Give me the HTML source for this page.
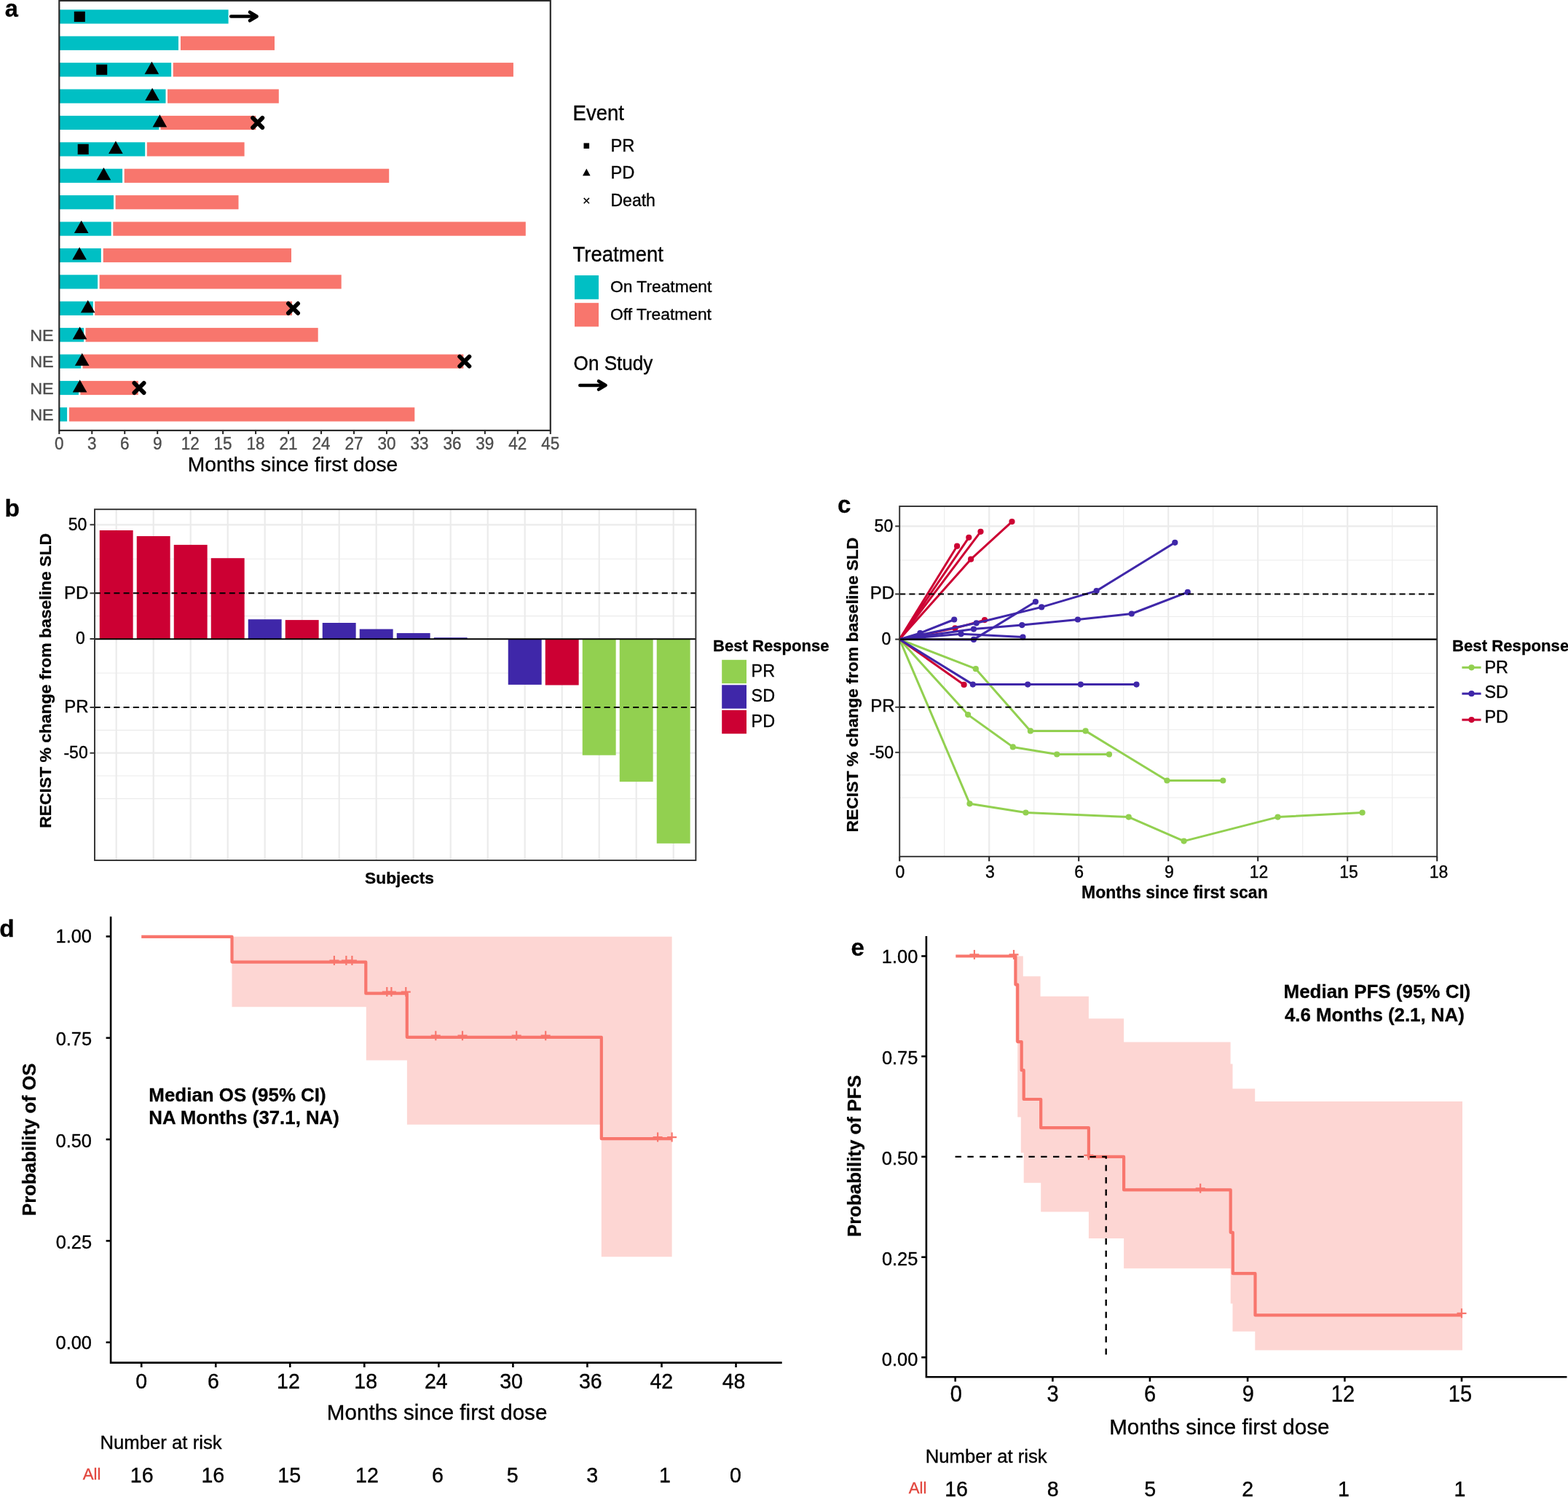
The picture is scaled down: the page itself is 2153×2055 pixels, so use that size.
<!DOCTYPE html>
<html lang="en">
<head>
<meta charset="utf-8">
<title>Figure</title>
<style>
html,body{margin:0;padding:0;background:#fff;}
body{width:2153px;height:2055px;overflow:hidden;}
svg{display:block;font-family:"Liberation Sans", sans-serif;}
</style>
</head>
<body>
<svg width="2153" height="2055" viewBox="0 0 2153 2055">
<rect x="0" y="0" width="2153" height="2055" fill="#fff"/>
<g id="panel-a">
<text transform="translate(6.78 23.0)" font-size="32.5" text-anchor="start" font-weight="bold" fill="#000" stroke="#000" stroke-width="0.3">a</text>
<rect x="81.3" y="13.30" width="232.30" height="19.2" fill="#00BFC4"/>
<rect x="81.3" y="49.70" width="163.70" height="19.2" fill="#00BFC4"/>
<rect x="248.0" y="49.70" width="129.00" height="19.2" fill="#F8766D"/>
<rect x="81.3" y="86.10" width="153.90" height="19.2" fill="#00BFC4"/>
<rect x="237.7" y="86.10" width="467.20" height="19.2" fill="#F8766D"/>
<rect x="81.3" y="122.50" width="146.20" height="19.2" fill="#00BFC4"/>
<rect x="230.0" y="122.50" width="152.80" height="19.2" fill="#F8766D"/>
<rect x="81.3" y="158.90" width="137.00" height="19.2" fill="#00BFC4"/>
<rect x="220.5" y="158.90" width="130.80" height="19.2" fill="#F8766D"/>
<rect x="81.3" y="195.30" width="117.90" height="19.2" fill="#00BFC4"/>
<rect x="201.8" y="195.30" width="133.80" height="19.2" fill="#F8766D"/>
<rect x="81.3" y="231.70" width="86.80" height="19.2" fill="#00BFC4"/>
<rect x="170.7" y="231.70" width="363.50" height="19.2" fill="#F8766D"/>
<rect x="81.3" y="268.10" width="74.70" height="19.2" fill="#00BFC4"/>
<rect x="158.6" y="268.10" width="168.90" height="19.2" fill="#F8766D"/>
<rect x="81.3" y="304.50" width="71.40" height="19.2" fill="#00BFC4"/>
<rect x="155.3" y="304.50" width="566.50" height="19.2" fill="#F8766D"/>
<rect x="81.3" y="340.90" width="57.50" height="19.2" fill="#00BFC4"/>
<rect x="141.7" y="340.90" width="258.30" height="19.2" fill="#F8766D"/>
<rect x="81.3" y="377.30" width="52.80" height="19.2" fill="#00BFC4"/>
<rect x="136.6" y="377.30" width="332.10" height="19.2" fill="#F8766D"/>
<rect x="81.3" y="413.70" width="46.50" height="19.2" fill="#00BFC4"/>
<rect x="130.2" y="413.70" width="270.80" height="19.2" fill="#F8766D"/>
<rect x="81.3" y="450.10" width="33.80" height="19.2" fill="#00BFC4"/>
<rect x="117.5" y="450.10" width="319.20" height="19.2" fill="#F8766D"/>
<rect x="81.3" y="486.50" width="29.90" height="19.2" fill="#00BFC4"/>
<rect x="113.5" y="486.50" width="522.90" height="19.2" fill="#F8766D"/>
<rect x="81.3" y="522.90" width="26.70" height="19.2" fill="#00BFC4"/>
<rect x="110.4" y="522.90" width="79.40" height="19.2" fill="#F8766D"/>
<rect x="81.3" y="559.30" width="10.80" height="19.2" fill="#00BFC4"/>
<rect x="94.9" y="559.30" width="474.40" height="19.2" fill="#F8766D"/>
<rect x="101.80" y="15.80" width="15" height="14.2" fill="#000"/>
<path d="M317.2,22.50 H352.3 M343.00,16.70 L352.60,22.50 L343.00,28.30" stroke="#000" stroke-width="4.6" stroke-linecap="round" stroke-linejoin="round" fill="none"/>
<rect x="132.20" y="88.60" width="15" height="14.2" fill="#000"/>
<path d="M208.40,84.40 L218.20,101.70 L198.60,101.70 Z" fill="#000"/>
<path d="M209.10,120.80 L218.90,138.10 L199.30,138.10 Z" fill="#000"/>
<path d="M219.40,157.20 L229.20,174.50 L209.60,174.50 Z" fill="#000"/>
<path d="M347.10,161.90 L360.30,175.10 M347.10,175.10 L360.30,161.90" stroke="#000" stroke-width="5.8" stroke-linecap="round" fill="none"/>
<rect x="106.70" y="197.80" width="15" height="14.2" fill="#000"/>
<path d="M158.90,193.60 L168.70,210.90 L149.10,210.90 Z" fill="#000"/>
<path d="M142.40,230.00 L152.20,247.30 L132.60,247.30 Z" fill="#000"/>
<path d="M111.70,302.80 L121.50,320.10 L101.90,320.10 Z" fill="#000"/>
<path d="M109.10,339.20 L118.90,356.50 L99.30,356.50 Z" fill="#000"/>
<path d="M120.70,412.00 L130.50,429.30 L110.90,429.30 Z" fill="#000"/>
<path d="M395.90,416.70 L409.10,429.90 M395.90,429.90 L409.10,416.70" stroke="#000" stroke-width="5.8" stroke-linecap="round" fill="none"/>
<path d="M109.60,448.40 L119.40,465.70 L99.80,465.70 Z" fill="#000"/>
<path d="M112.70,484.80 L122.50,502.10 L102.90,502.10 Z" fill="#000"/>
<path d="M631.20,489.50 L644.40,502.70 M631.20,502.70 L644.40,489.50" stroke="#000" stroke-width="5.8" stroke-linecap="round" fill="none"/>
<path d="M109.60,521.20 L119.40,538.50 L99.80,538.50 Z" fill="#000"/>
<path d="M184.40,525.90 L197.60,539.10 M184.40,539.10 L197.60,525.90" stroke="#000" stroke-width="5.8" stroke-linecap="round" fill="none"/>
<rect x="81.3" y="1.0" width="674.5" height="589.9" fill="none" stroke="#2b2b2b" stroke-width="2.2"/>
<line x1="81.30" y1="590.9" x2="81.30" y2="595.9" stroke="#2b2b2b" stroke-width="2.1"/>
<text transform="translate(81.3 617.0) scale(1.0 1.03)" font-size="22.5" text-anchor="middle" font-weight="normal" fill="#4D4D4D" stroke="#4D4D4D" stroke-width="0.35">0</text>
<line x1="126.27" y1="590.9" x2="126.27" y2="595.9" stroke="#2b2b2b" stroke-width="2.1"/>
<text transform="translate(126.27 617.0) scale(1.0 1.03)" font-size="22.5" text-anchor="middle" font-weight="normal" fill="#4D4D4D" stroke="#4D4D4D" stroke-width="0.35">3</text>
<line x1="171.23" y1="590.9" x2="171.23" y2="595.9" stroke="#2b2b2b" stroke-width="2.1"/>
<text transform="translate(171.23 617.0) scale(1.0 1.03)" font-size="22.5" text-anchor="middle" font-weight="normal" fill="#4D4D4D" stroke="#4D4D4D" stroke-width="0.35">6</text>
<line x1="216.20" y1="590.9" x2="216.20" y2="595.9" stroke="#2b2b2b" stroke-width="2.1"/>
<text transform="translate(216.2 617.0) scale(1.0 1.03)" font-size="22.5" text-anchor="middle" font-weight="normal" fill="#4D4D4D" stroke="#4D4D4D" stroke-width="0.35">9</text>
<line x1="261.17" y1="590.9" x2="261.17" y2="595.9" stroke="#2b2b2b" stroke-width="2.1"/>
<text transform="translate(261.17 617.0) scale(1.0 1.03)" font-size="22.5" text-anchor="middle" font-weight="normal" fill="#4D4D4D" stroke="#4D4D4D" stroke-width="0.35">12</text>
<line x1="306.13" y1="590.9" x2="306.13" y2="595.9" stroke="#2b2b2b" stroke-width="2.1"/>
<text transform="translate(306.13 617.0) scale(1.0 1.03)" font-size="22.5" text-anchor="middle" font-weight="normal" fill="#4D4D4D" stroke="#4D4D4D" stroke-width="0.35">15</text>
<line x1="351.10" y1="590.9" x2="351.10" y2="595.9" stroke="#2b2b2b" stroke-width="2.1"/>
<text transform="translate(351.1 617.0) scale(1.0 1.03)" font-size="22.5" text-anchor="middle" font-weight="normal" fill="#4D4D4D" stroke="#4D4D4D" stroke-width="0.35">18</text>
<line x1="396.07" y1="590.9" x2="396.07" y2="595.9" stroke="#2b2b2b" stroke-width="2.1"/>
<text transform="translate(396.07 617.0) scale(1.0 1.03)" font-size="22.5" text-anchor="middle" font-weight="normal" fill="#4D4D4D" stroke="#4D4D4D" stroke-width="0.35">21</text>
<line x1="441.03" y1="590.9" x2="441.03" y2="595.9" stroke="#2b2b2b" stroke-width="2.1"/>
<text transform="translate(441.03 617.0) scale(1.0 1.03)" font-size="22.5" text-anchor="middle" font-weight="normal" fill="#4D4D4D" stroke="#4D4D4D" stroke-width="0.35">24</text>
<line x1="486.00" y1="590.9" x2="486.00" y2="595.9" stroke="#2b2b2b" stroke-width="2.1"/>
<text transform="translate(486.0 617.0) scale(1.0 1.03)" font-size="22.5" text-anchor="middle" font-weight="normal" fill="#4D4D4D" stroke="#4D4D4D" stroke-width="0.35">27</text>
<line x1="530.97" y1="590.9" x2="530.97" y2="595.9" stroke="#2b2b2b" stroke-width="2.1"/>
<text transform="translate(530.97 617.0) scale(1.0 1.03)" font-size="22.5" text-anchor="middle" font-weight="normal" fill="#4D4D4D" stroke="#4D4D4D" stroke-width="0.35">30</text>
<line x1="575.93" y1="590.9" x2="575.93" y2="595.9" stroke="#2b2b2b" stroke-width="2.1"/>
<text transform="translate(575.93 617.0) scale(1.0 1.03)" font-size="22.5" text-anchor="middle" font-weight="normal" fill="#4D4D4D" stroke="#4D4D4D" stroke-width="0.35">33</text>
<line x1="620.90" y1="590.9" x2="620.90" y2="595.9" stroke="#2b2b2b" stroke-width="2.1"/>
<text transform="translate(620.9 617.0) scale(1.0 1.03)" font-size="22.5" text-anchor="middle" font-weight="normal" fill="#4D4D4D" stroke="#4D4D4D" stroke-width="0.35">36</text>
<line x1="665.87" y1="590.9" x2="665.87" y2="595.9" stroke="#2b2b2b" stroke-width="2.1"/>
<text transform="translate(665.87 617.0) scale(1.0 1.03)" font-size="22.5" text-anchor="middle" font-weight="normal" fill="#4D4D4D" stroke="#4D4D4D" stroke-width="0.35">39</text>
<line x1="710.83" y1="590.9" x2="710.83" y2="595.9" stroke="#2b2b2b" stroke-width="2.1"/>
<text transform="translate(710.83 617.0) scale(1.0 1.03)" font-size="22.5" text-anchor="middle" font-weight="normal" fill="#4D4D4D" stroke="#4D4D4D" stroke-width="0.35">42</text>
<line x1="755.80" y1="590.9" x2="755.80" y2="595.9" stroke="#2b2b2b" stroke-width="2.1"/>
<text transform="translate(755.8 617.0) scale(1.0 1.03)" font-size="22.5" text-anchor="middle" font-weight="normal" fill="#4D4D4D" stroke="#4D4D4D" stroke-width="0.35">45</text>
<text transform="translate(41.2 467.9) scale(1.04 1.0)" font-size="22.5" text-anchor="start" font-weight="normal" fill="#4D4D4D" stroke="#4D4D4D" stroke-width="0.35">NE</text>
<text transform="translate(41.2 504.3) scale(1.04 1.0)" font-size="22.5" text-anchor="start" font-weight="normal" fill="#4D4D4D" stroke="#4D4D4D" stroke-width="0.35">NE</text>
<text transform="translate(41.2 540.7) scale(1.04 1.0)" font-size="22.5" text-anchor="start" font-weight="normal" fill="#4D4D4D" stroke="#4D4D4D" stroke-width="0.35">NE</text>
<text transform="translate(41.2 577.1) scale(1.04 1.0)" font-size="22.5" text-anchor="start" font-weight="normal" fill="#4D4D4D" stroke="#4D4D4D" stroke-width="0.35">NE</text>
<text transform="translate(257.69 646.8)" font-size="28.22" text-anchor="start" font-weight="normal" fill="#000" stroke="#000" stroke-width="0.35">Months since first dose</text>
<text transform="translate(786.6 164.8) scale(1.0 1.07)" font-size="27.5" text-anchor="start" font-weight="normal" fill="#000" stroke="#000" stroke-width="0.35">Event</text>
<rect x="801.5" y="196.4" width="7.6" height="7.6" fill="#000"/>
<path d="M805.3,231.6 L810.6,241.2 L800,241.2 Z" fill="#000"/>
<path d="M801.7,271.9 L809.0,279.3 M801.7,279.3 L809.0,271.9" stroke="#000" stroke-width="1.5" fill="none"/>
<text transform="translate(838.5 207.8) scale(1.03 1.0)" font-size="23" text-anchor="start" font-weight="normal" fill="#000" stroke="#000" stroke-width="0.35">PR</text>
<text transform="translate(838.5 245.4) scale(1.03 1.0)" font-size="23" text-anchor="start" font-weight="normal" fill="#000" stroke="#000" stroke-width="0.35">PD</text>
<text transform="translate(838.5 282.9)" font-size="23" text-anchor="start" font-weight="normal" fill="#000" stroke="#000" stroke-width="0.35">Death</text>
<text transform="translate(786.6 359.0) scale(1.0 1.07)" font-size="27.5" text-anchor="start" font-weight="normal" fill="#000" stroke="#000" stroke-width="0.35">Treatment</text>
<rect x="789" y="378" width="33" height="32.8" fill="#00BFC4"/>
<rect x="789" y="415.8" width="33" height="32.6" fill="#F8766D"/>
<text transform="translate(838.0 401.4)" font-size="22.8" text-anchor="start" font-weight="normal" fill="#000" stroke="#000" stroke-width="0.35">On Treatment</text>
<text transform="translate(838.0 439.3)" font-size="22.8" text-anchor="start" font-weight="normal" fill="#000" stroke="#000" stroke-width="0.35">Off Treatment</text>
<text transform="translate(787.6 507.6) scale(1.0 1.07)" font-size="26.1" text-anchor="start" font-weight="normal" fill="#000" stroke="#000" stroke-width="0.35">On Study</text>
<path d="M796.3,528.9 H831 M822.0,523.2 L831.6,528.9 L822.0,534.6" stroke="#000" stroke-width="4.5" stroke-linecap="round" stroke-linejoin="round" fill="none"/>
</g>
<g id="panel-b">
<text transform="translate(6.59 708.5)" font-size="33.5" text-anchor="start" font-weight="bold" fill="#000" stroke="#000" stroke-width="0.3">b</text>
<line x1="130.0" y1="767.31" x2="955.4" y2="767.31" stroke="#EBEBEB" stroke-width="1.1"/>
<line x1="130.0" y1="845.66" x2="955.4" y2="845.66" stroke="#EBEBEB" stroke-width="1.1"/>
<line x1="130.0" y1="924.01" x2="955.4" y2="924.01" stroke="#EBEBEB" stroke-width="1.1"/>
<line x1="130.0" y1="1002.36" x2="955.4" y2="1002.36" stroke="#EBEBEB" stroke-width="1.1"/>
<line x1="130.0" y1="1065.04" x2="955.4" y2="1065.04" stroke="#EBEBEB" stroke-width="1.1"/>
<line x1="130.0" y1="1096.38" x2="955.4" y2="1096.38" stroke="#EBEBEB" stroke-width="1.1"/>
<line x1="130.0" y1="720.30" x2="955.4" y2="720.30" stroke="#EBEBEB" stroke-width="2.2"/>
<line x1="130.0" y1="814.32" x2="955.4" y2="814.32" stroke="#EBEBEB" stroke-width="2.2"/>
<line x1="130.0" y1="971.02" x2="955.4" y2="971.02" stroke="#EBEBEB" stroke-width="2.2"/>
<line x1="130.0" y1="1033.70" x2="955.4" y2="1033.70" stroke="#EBEBEB" stroke-width="2.2"/>
<line x1="159.70" y1="699.2" x2="159.70" y2="1181.0" stroke="#EBEBEB" stroke-width="2.2"/>
<line x1="210.70" y1="699.2" x2="210.70" y2="1181.0" stroke="#EBEBEB" stroke-width="2.2"/>
<line x1="261.70" y1="699.2" x2="261.70" y2="1181.0" stroke="#EBEBEB" stroke-width="2.2"/>
<line x1="312.70" y1="699.2" x2="312.70" y2="1181.0" stroke="#EBEBEB" stroke-width="2.2"/>
<line x1="363.70" y1="699.2" x2="363.70" y2="1181.0" stroke="#EBEBEB" stroke-width="2.2"/>
<line x1="414.70" y1="699.2" x2="414.70" y2="1181.0" stroke="#EBEBEB" stroke-width="2.2"/>
<line x1="465.70" y1="699.2" x2="465.70" y2="1181.0" stroke="#EBEBEB" stroke-width="2.2"/>
<line x1="516.70" y1="699.2" x2="516.70" y2="1181.0" stroke="#EBEBEB" stroke-width="2.2"/>
<line x1="567.70" y1="699.2" x2="567.70" y2="1181.0" stroke="#EBEBEB" stroke-width="2.2"/>
<line x1="618.70" y1="699.2" x2="618.70" y2="1181.0" stroke="#EBEBEB" stroke-width="2.2"/>
<line x1="669.70" y1="699.2" x2="669.70" y2="1181.0" stroke="#EBEBEB" stroke-width="2.2"/>
<line x1="720.70" y1="699.2" x2="720.70" y2="1181.0" stroke="#EBEBEB" stroke-width="2.2"/>
<line x1="771.70" y1="699.2" x2="771.70" y2="1181.0" stroke="#EBEBEB" stroke-width="2.2"/>
<line x1="822.70" y1="699.2" x2="822.70" y2="1181.0" stroke="#EBEBEB" stroke-width="2.2"/>
<line x1="873.70" y1="699.2" x2="873.70" y2="1181.0" stroke="#EBEBEB" stroke-width="2.2"/>
<line x1="924.70" y1="699.2" x2="924.70" y2="1181.0" stroke="#EBEBEB" stroke-width="2.2"/>
<rect x="136.75" y="728.00" width="45.9" height="149.00" fill="#CC0033"/>
<rect x="187.75" y="736.00" width="45.9" height="141.00" fill="#CC0033"/>
<rect x="238.75" y="747.90" width="45.9" height="129.10" fill="#CC0033"/>
<rect x="289.75" y="766.20" width="45.9" height="110.80" fill="#CC0033"/>
<rect x="340.75" y="850.20" width="45.9" height="26.80" fill="#3F27A9"/>
<rect x="391.75" y="851.10" width="45.9" height="25.90" fill="#CC0033"/>
<rect x="442.75" y="855.00" width="45.9" height="22.00" fill="#3F27A9"/>
<rect x="493.75" y="863.60" width="45.9" height="13.40" fill="#3F27A9"/>
<rect x="544.75" y="869.10" width="45.9" height="7.90" fill="#3F27A9"/>
<rect x="595.75" y="875.20" width="45.9" height="1.80" fill="#3F27A9"/>
<rect x="697.75" y="877.00" width="45.9" height="62.90" fill="#3F27A9"/>
<rect x="748.75" y="877.00" width="45.9" height="63.50" fill="#CC0033"/>
<rect x="799.75" y="877.00" width="45.9" height="159.70" fill="#92D050"/>
<rect x="850.75" y="877.00" width="45.9" height="196.10" fill="#92D050"/>
<rect x="901.75" y="877.00" width="45.9" height="280.80" fill="#92D050"/>
<line x1="130.0" y1="877.2" x2="955.4" y2="877.2" stroke="#000" stroke-width="2.0"/>
<line x1="130.0" y1="814.32" x2="955.4" y2="814.32" stroke="#000" stroke-width="2.1" stroke-dasharray="8 5.2"/>
<line x1="130.0" y1="971.02" x2="955.4" y2="971.02" stroke="#000" stroke-width="2.1" stroke-dasharray="8 5.2"/>
<rect x="130.0" y="699.2" width="825.4" height="481.79999999999995" fill="none" stroke="#303030" stroke-width="1.9"/>
<line x1="123.5" y1="720.30" x2="130.0" y2="720.30" stroke="#333" stroke-width="2"/>
<text transform="translate(93.82 727.5)" font-size="23" text-anchor="start" font-weight="normal" fill="#000" stroke="#000" stroke-width="0.35">50</text>
<line x1="123.5" y1="814.32" x2="130.0" y2="814.32" stroke="#333" stroke-width="2"/>
<text transform="translate(88.06 821.5) scale(1.045 1.0)" font-size="23" text-anchor="start" font-weight="normal" fill="#000" stroke="#000" stroke-width="0.35">PD</text>
<line x1="123.5" y1="877.00" x2="130.0" y2="877.00" stroke="#333" stroke-width="2"/>
<text transform="translate(104.11 883.8)" font-size="23" text-anchor="start" font-weight="normal" fill="#000" stroke="#000" stroke-width="0.35">0</text>
<line x1="123.5" y1="971.02" x2="130.0" y2="971.02" stroke="#333" stroke-width="2"/>
<text transform="translate(88.33 978.4) scale(1.045 1.0)" font-size="23" text-anchor="start" font-weight="normal" fill="#000" stroke="#000" stroke-width="0.35">PR</text>
<line x1="123.5" y1="1033.70" x2="130.0" y2="1033.70" stroke="#333" stroke-width="2"/>
<text transform="translate(87.46 1040.8)" font-size="23" text-anchor="start" font-weight="normal" fill="#000" stroke="#000" stroke-width="0.35">-50</text>
<text transform="translate(70.3 1136.83) rotate(-90)" font-size="22.92" text-anchor="start" font-weight="bold" fill="#000" stroke="#000" stroke-width="0.3">RECIST % change from baseline SLD</text>
<text transform="translate(501.04 1213.2)" font-size="22.79" text-anchor="start" font-weight="bold" fill="#000" stroke="#000" stroke-width="0.3">Subjects</text>
<text transform="translate(979.0 894.4)" font-size="22.1" text-anchor="start" font-weight="bold" fill="#000" stroke="#000" stroke-width="0.3">Best Response</text>
<rect x="991.2" y="905.8" width="33.8" height="32.4" fill="#92D050"/>
<rect x="991.2" y="940.3" width="33.8" height="32.4" fill="#3F27A9"/>
<rect x="991.2" y="974.8" width="33.8" height="32.4" fill="#CC0033"/>
<text transform="translate(1031.6 928.9)" font-size="23.4" text-anchor="start" font-weight="normal" fill="#000" stroke="#000" stroke-width="0.35">PR</text>
<text transform="translate(1031.6 963.4)" font-size="23.4" text-anchor="start" font-weight="normal" fill="#000" stroke="#000" stroke-width="0.35">SD</text>
<text transform="translate(1031.6 997.7)" font-size="23.4" text-anchor="start" font-weight="normal" fill="#000" stroke="#000" stroke-width="0.35">PD</text>
</g>
<g id="panel-c">
<text transform="translate(1149.91 704.3)" font-size="33" text-anchor="start" font-weight="bold" fill="#000" stroke="#000" stroke-width="0.3">c</text>
<line x1="1235.2" y1="768.93" x2="1973.2" y2="768.93" stroke="#EBEBEB" stroke-width="1.1"/>
<line x1="1235.2" y1="846.55" x2="1973.2" y2="846.55" stroke="#EBEBEB" stroke-width="1.1"/>
<line x1="1235.2" y1="924.18" x2="1973.2" y2="924.18" stroke="#EBEBEB" stroke-width="1.1"/>
<line x1="1235.2" y1="1001.80" x2="1973.2" y2="1001.80" stroke="#EBEBEB" stroke-width="1.1"/>
<line x1="1235.2" y1="1063.90" x2="1973.2" y2="1063.90" stroke="#EBEBEB" stroke-width="1.1"/>
<line x1="1235.2" y1="1094.95" x2="1973.2" y2="1094.95" stroke="#EBEBEB" stroke-width="1.1"/>
<line x1="1235.2" y1="722.35" x2="1973.2" y2="722.35" stroke="#EBEBEB" stroke-width="2.2"/>
<line x1="1235.2" y1="815.50" x2="1973.2" y2="815.50" stroke="#EBEBEB" stroke-width="2.2"/>
<line x1="1235.2" y1="970.75" x2="1973.2" y2="970.75" stroke="#EBEBEB" stroke-width="2.2"/>
<line x1="1235.2" y1="1032.85" x2="1973.2" y2="1032.85" stroke="#EBEBEB" stroke-width="2.2"/>
<line x1="1296.70" y1="695.0" x2="1296.70" y2="1175.8" stroke="#EBEBEB" stroke-width="1.1"/>
<line x1="1419.70" y1="695.0" x2="1419.70" y2="1175.8" stroke="#EBEBEB" stroke-width="1.1"/>
<line x1="1542.70" y1="695.0" x2="1542.70" y2="1175.8" stroke="#EBEBEB" stroke-width="1.1"/>
<line x1="1665.70" y1="695.0" x2="1665.70" y2="1175.8" stroke="#EBEBEB" stroke-width="1.1"/>
<line x1="1788.70" y1="695.0" x2="1788.70" y2="1175.8" stroke="#EBEBEB" stroke-width="1.1"/>
<line x1="1911.70" y1="695.0" x2="1911.70" y2="1175.8" stroke="#EBEBEB" stroke-width="1.1"/>
<line x1="1358.20" y1="695.0" x2="1358.20" y2="1175.8" stroke="#EBEBEB" stroke-width="2.2"/>
<line x1="1481.20" y1="695.0" x2="1481.20" y2="1175.8" stroke="#EBEBEB" stroke-width="2.2"/>
<line x1="1604.20" y1="695.0" x2="1604.20" y2="1175.8" stroke="#EBEBEB" stroke-width="2.2"/>
<line x1="1727.20" y1="695.0" x2="1727.20" y2="1175.8" stroke="#EBEBEB" stroke-width="2.2"/>
<line x1="1850.20" y1="695.0" x2="1850.20" y2="1175.8" stroke="#EBEBEB" stroke-width="2.2"/>
<path d="M1235.2,877.6 L1339.8,918.2 L1414.9,1003.4 L1490.6,1003.4 L1602.4,1071.5 L1679.3,1071.5" stroke="#92D050" stroke-width="3.0" fill="none" stroke-linejoin="round"/>
<circle cx="1339.8" cy="918.2" r="4.1" fill="#92D050"/>
<circle cx="1414.9" cy="1003.4" r="4.1" fill="#92D050"/>
<circle cx="1490.6" cy="1003.4" r="4.1" fill="#92D050"/>
<circle cx="1602.4" cy="1071.5" r="4.1" fill="#92D050"/>
<circle cx="1679.3" cy="1071.5" r="4.1" fill="#92D050"/>
<path d="M1235.2,877.6 L1329.1,981.1 L1390.8,1025.4 L1451.2,1035.5 L1523.0,1035.5" stroke="#92D050" stroke-width="3.0" fill="none" stroke-linejoin="round"/>
<circle cx="1329.1" cy="981.1" r="4.1" fill="#92D050"/>
<circle cx="1390.8" cy="1025.4" r="4.1" fill="#92D050"/>
<circle cx="1451.2" cy="1035.5" r="4.1" fill="#92D050"/>
<circle cx="1523.0" cy="1035.5" r="4.1" fill="#92D050"/>
<path d="M1235.2,877.6 L1331.5,1103.3 L1408.5,1115.5 L1549.8,1121.6 L1625.6,1154.6 L1754.5,1121.6 L1870.6,1115.5" stroke="#92D050" stroke-width="3.0" fill="none" stroke-linejoin="round"/>
<circle cx="1331.5" cy="1103.3" r="4.1" fill="#92D050"/>
<circle cx="1408.5" cy="1115.5" r="4.1" fill="#92D050"/>
<circle cx="1549.8" cy="1121.6" r="4.1" fill="#92D050"/>
<circle cx="1625.6" cy="1154.6" r="4.1" fill="#92D050"/>
<circle cx="1754.5" cy="1121.6" r="4.1" fill="#92D050"/>
<circle cx="1870.6" cy="1115.5" r="4.1" fill="#92D050"/>
<path d="M1235.2,877.6 L1314.1,749.7" stroke="#CC0033" stroke-width="3.0" fill="none" stroke-linejoin="round"/>
<circle cx="1314.1" cy="749.7" r="4.1" fill="#CC0033"/>
<path d="M1235.2,877.6 L1330.3,737.8" stroke="#CC0033" stroke-width="3.0" fill="none" stroke-linejoin="round"/>
<circle cx="1330.3" cy="737.8" r="4.1" fill="#CC0033"/>
<path d="M1235.2,877.6 L1346.5,729.8" stroke="#CC0033" stroke-width="3.0" fill="none" stroke-linejoin="round"/>
<circle cx="1346.5" cy="729.8" r="4.1" fill="#CC0033"/>
<path d="M1235.2,877.6 L1333.1,767.7 L1389.5,716.1" stroke="#CC0033" stroke-width="3.0" fill="none" stroke-linejoin="round"/>
<circle cx="1333.1" cy="767.7" r="4.1" fill="#CC0033"/>
<circle cx="1389.5" cy="716.1" r="4.1" fill="#CC0033"/>
<path d="M1235.2,877.6 L1311.4,862.4 L1352.0,851.1" stroke="#CC0033" stroke-width="3.0" fill="none" stroke-linejoin="round"/>
<circle cx="1311.4" cy="862.4" r="4.1" fill="#CC0033"/>
<circle cx="1352.0" cy="851.1" r="4.1" fill="#CC0033"/>
<path d="M1235.2,877.6 L1323.6,939.9" stroke="#CC0033" stroke-width="3.0" fill="none" stroke-linejoin="round"/>
<circle cx="1323.6" cy="939.9" r="4.1" fill="#CC0033"/>
<path d="M1235.2,877.6 L1263.4,869.1 L1310.2,850.5" stroke="#3F27A9" stroke-width="3.0" fill="none" stroke-linejoin="round"/>
<circle cx="1263.4" cy="869.1" r="4.1" fill="#3F27A9"/>
<circle cx="1310.2" cy="850.5" r="4.1" fill="#3F27A9"/>
<path d="M1235.2,877.6 L1340.7,855.3 L1430.2,833.4 L1505.6,811.1 L1613.3,744.8" stroke="#3F27A9" stroke-width="3.0" fill="none" stroke-linejoin="round"/>
<circle cx="1340.7" cy="855.3" r="4.1" fill="#3F27A9"/>
<circle cx="1430.2" cy="833.4" r="4.1" fill="#3F27A9"/>
<circle cx="1505.6" cy="811.1" r="4.1" fill="#3F27A9"/>
<circle cx="1613.3" cy="744.8" r="4.1" fill="#3F27A9"/>
<path d="M1235.2,877.6 L1337.0,863.6 L1403.3,858.1 L1479.9,850.5 L1553.8,842.5 L1630.8,812.9" stroke="#3F27A9" stroke-width="3.0" fill="none" stroke-linejoin="round"/>
<circle cx="1337.0" cy="863.6" r="4.1" fill="#3F27A9"/>
<circle cx="1403.3" cy="858.1" r="4.1" fill="#3F27A9"/>
<circle cx="1479.9" cy="850.5" r="4.1" fill="#3F27A9"/>
<circle cx="1553.8" cy="842.5" r="4.1" fill="#3F27A9"/>
<circle cx="1630.8" cy="812.9" r="4.1" fill="#3F27A9"/>
<path d="M1235.2,877.6 L1319.6,870.3 L1404.5,874.6" stroke="#3F27A9" stroke-width="3.0" fill="none" stroke-linejoin="round"/>
<circle cx="1319.6" cy="870.3" r="4.1" fill="#3F27A9"/>
<circle cx="1404.5" cy="874.6" r="4.1" fill="#3F27A9"/>
<path d="M1235.2,877.6 L1337.0,877.9 L1421.9,826.0" stroke="#3F27A9" stroke-width="3.0" fill="none" stroke-linejoin="round"/>
<circle cx="1337.0" cy="877.9" r="4.1" fill="#3F27A9"/>
<circle cx="1421.9" cy="826.0" r="4.1" fill="#3F27A9"/>
<path d="M1235.2,877.6 L1335.8,939.6 L1411.2,939.6 L1483.9,939.6 L1560.5,939.6" stroke="#3F27A9" stroke-width="3.0" fill="none" stroke-linejoin="round"/>
<circle cx="1335.8" cy="939.6" r="4.1" fill="#3F27A9"/>
<circle cx="1411.2" cy="939.6" r="4.1" fill="#3F27A9"/>
<circle cx="1483.9" cy="939.6" r="4.1" fill="#3F27A9"/>
<circle cx="1560.5" cy="939.6" r="4.1" fill="#3F27A9"/>
<line x1="1235.2" y1="877.6" x2="1973.2" y2="877.6" stroke="#000" stroke-width="2.2"/>
<line x1="1235.2" y1="815.50" x2="1973.2" y2="815.50" stroke="#000" stroke-width="2.1" stroke-dasharray="8 5.2"/>
<line x1="1235.2" y1="970.75" x2="1973.2" y2="970.75" stroke="#000" stroke-width="2.1" stroke-dasharray="8 5.2"/>
<rect x="1235.2" y="695.0" width="738.0" height="480.79999999999995" fill="none" stroke="#303030" stroke-width="1.9"/>
<line x1="1229.2" y1="722.35" x2="1235.2" y2="722.35" stroke="#333" stroke-width="2"/>
<text transform="translate(1200.62 729.8)" font-size="23" text-anchor="start" font-weight="normal" fill="#000" stroke="#000" stroke-width="0.35">50</text>
<line x1="1229.2" y1="815.50" x2="1235.2" y2="815.50" stroke="#333" stroke-width="2"/>
<text transform="translate(1194.66 822.1) scale(1.045 1.0)" font-size="23" text-anchor="start" font-weight="normal" fill="#000" stroke="#000" stroke-width="0.35">PD</text>
<line x1="1229.2" y1="877.60" x2="1235.2" y2="877.60" stroke="#333" stroke-width="2"/>
<text transform="translate(1210.61 885.0)" font-size="23" text-anchor="start" font-weight="normal" fill="#000" stroke="#000" stroke-width="0.35">0</text>
<line x1="1229.2" y1="970.75" x2="1235.2" y2="970.75" stroke="#333" stroke-width="2"/>
<text transform="translate(1195.13 977.3) scale(1.045 1.0)" font-size="23" text-anchor="start" font-weight="normal" fill="#000" stroke="#000" stroke-width="0.35">PR</text>
<line x1="1229.2" y1="1032.85" x2="1235.2" y2="1032.85" stroke="#333" stroke-width="2"/>
<text transform="translate(1193.86 1040.7)" font-size="23" text-anchor="start" font-weight="normal" fill="#000" stroke="#000" stroke-width="0.35">-50</text>
<line x1="1235.20" y1="1175.8" x2="1235.20" y2="1182.3" stroke="#262626" stroke-width="2.1"/>
<text transform="translate(1229.6 1204.5)" font-size="23" text-anchor="start" font-weight="normal" fill="#000" stroke="#000" stroke-width="0.35">0</text>
<line x1="1358.20" y1="1175.8" x2="1358.20" y2="1182.3" stroke="#262626" stroke-width="2.1"/>
<text transform="translate(1353.07 1204.5)" font-size="23" text-anchor="start" font-weight="normal" fill="#000" stroke="#000" stroke-width="0.35">3</text>
<line x1="1481.20" y1="1175.8" x2="1481.20" y2="1182.3" stroke="#262626" stroke-width="2.1"/>
<text transform="translate(1475.23 1204.5)" font-size="23" text-anchor="start" font-weight="normal" fill="#000" stroke="#000" stroke-width="0.35">6</text>
<line x1="1604.20" y1="1175.8" x2="1604.20" y2="1182.3" stroke="#262626" stroke-width="2.1"/>
<text transform="translate(1598.91 1204.5)" font-size="23" text-anchor="start" font-weight="normal" fill="#000" stroke="#000" stroke-width="0.35">9</text>
<line x1="1727.20" y1="1175.8" x2="1727.20" y2="1182.3" stroke="#262626" stroke-width="2.1"/>
<text transform="translate(1715.71 1204.5)" font-size="23" text-anchor="start" font-weight="normal" fill="#000" stroke="#000" stroke-width="0.35">12</text>
<line x1="1850.20" y1="1175.8" x2="1850.20" y2="1182.3" stroke="#262626" stroke-width="2.1"/>
<text transform="translate(1839.22 1204.5)" font-size="23" text-anchor="start" font-weight="normal" fill="#000" stroke="#000" stroke-width="0.35">15</text>
<line x1="1973.20" y1="1175.8" x2="1973.20" y2="1182.3" stroke="#262626" stroke-width="2.1"/>
<text transform="translate(1962.63 1204.5)" font-size="23" text-anchor="start" font-weight="normal" fill="#000" stroke="#000" stroke-width="0.35">18</text>
<text transform="translate(1178.3 1142.53) rotate(-90)" font-size="22.91" text-anchor="start" font-weight="bold" fill="#000" stroke="#000" stroke-width="0.3">RECIST % change from baseline SLD</text>
<text transform="translate(1485.06 1232.6)" font-size="23.0" text-anchor="start" font-weight="bold" fill="#000" stroke="#000" stroke-width="0.3">Months since first scan</text>
<text transform="translate(1994.0 894.4)" font-size="22.2" text-anchor="start" font-weight="bold" fill="#000" stroke="#000" stroke-width="0.3">Best Response</text>
<line x1="2007.4" y1="916.3" x2="2033.6" y2="916.3" stroke="#92D050" stroke-width="3.0"/>
<circle cx="2020.5" cy="916.3" r="4.1" fill="#92D050"/>
<text transform="translate(2038.4 923.7)" font-size="23.5" text-anchor="start" font-weight="normal" fill="#000" stroke="#000" stroke-width="0.35">PR</text>
<line x1="2007.4" y1="952.2" x2="2033.6" y2="952.2" stroke="#3F27A9" stroke-width="3.0"/>
<circle cx="2020.5" cy="952.2" r="4.1" fill="#3F27A9"/>
<text transform="translate(2038.4 957.8)" font-size="23.5" text-anchor="start" font-weight="normal" fill="#000" stroke="#000" stroke-width="0.35">SD</text>
<line x1="2007.4" y1="988.1" x2="2033.6" y2="988.1" stroke="#CC0033" stroke-width="3.0"/>
<circle cx="2020.5" cy="988.1" r="4.1" fill="#CC0033"/>
<text transform="translate(2038.4 992.1)" font-size="23.5" text-anchor="start" font-weight="normal" fill="#000" stroke="#000" stroke-width="0.35">PD</text>
</g>
<g id="panel-d">
<text transform="translate(-0.65 1286.0)" font-size="33.5" text-anchor="start" font-weight="bold" fill="#000" stroke="#000" stroke-width="0.3">d</text>
<path d="M318.5,1285.8 H922.6 V1725.3 H825.8 V1543.7 H558.9 V1455.6 H502.8 V1382.3 H318.5 Z" fill="#FDD6D3"/>
<path d="M194.2,1285.8 H318.5 V1320.6 H502.3 V1363.7 H558.8 V1423.8 H825.8 V1563.2 H922.6" stroke="#F8766D" stroke-width="4.2" fill="none" stroke-linejoin="round"/>
<path d="M452.4,1318.5 H465.4 M458.9,1312.0 V1325.0" stroke="#F8766D" stroke-width="2.2" fill="none"/>
<path d="M468.9,1318.5 H481.9 M475.4,1312.0 V1325.0" stroke="#F8766D" stroke-width="2.2" fill="none"/>
<path d="M476.9,1318.5 H489.9 M483.4,1312.0 V1325.0" stroke="#F8766D" stroke-width="2.2" fill="none"/>
<path d="M524.8,1361.6 H537.8 M531.3,1355.1 V1368.1" stroke="#F8766D" stroke-width="2.2" fill="none"/>
<path d="M530.9,1361.6 H543.9 M537.4,1355.1 V1368.1" stroke="#F8766D" stroke-width="2.2" fill="none"/>
<path d="M550.8,1361.6 H563.8 M557.3,1355.1 V1368.1" stroke="#F8766D" stroke-width="2.2" fill="none"/>
<path d="M591.8,1421.7 H604.8 M598.3,1415.2 V1428.2" stroke="#F8766D" stroke-width="2.2" fill="none"/>
<path d="M628.5,1421.7 H641.5 M635.0,1415.2 V1428.2" stroke="#F8766D" stroke-width="2.2" fill="none"/>
<path d="M702.7,1421.7 H715.7 M709.2,1415.2 V1428.2" stroke="#F8766D" stroke-width="2.2" fill="none"/>
<path d="M742.7,1421.7 H755.7 M749.2,1415.2 V1428.2" stroke="#F8766D" stroke-width="2.2" fill="none"/>
<path d="M896.6,1561.1 H909.6 M903.1,1554.6 V1567.6" stroke="#F8766D" stroke-width="2.2" fill="none"/>
<path d="M916.1,1561.1 H929.1 M922.6,1554.6 V1567.6" stroke="#F8766D" stroke-width="2.2" fill="none"/>
<path d="M152.1,1258.3 V1870.6 H1073.7" stroke="#000" stroke-width="2.6" fill="none"/>
<line x1="145.6" y1="1285.5" x2="152.1" y2="1285.5" stroke="#000" stroke-width="2.6"/>
<text transform="translate(76.56 1293.8)" font-size="25.4" text-anchor="start" font-weight="normal" fill="#000" stroke="#000" stroke-width="0.35">1.00</text>
<line x1="145.6" y1="1424.8" x2="152.1" y2="1424.8" stroke="#000" stroke-width="2.6"/>
<text transform="translate(76.63 1434.6)" font-size="25.4" text-anchor="start" font-weight="normal" fill="#000" stroke="#000" stroke-width="0.35">0.75</text>
<line x1="145.6" y1="1564.1" x2="152.1" y2="1564.1" stroke="#000" stroke-width="2.6"/>
<text transform="translate(76.56 1575.4)" font-size="25.4" text-anchor="start" font-weight="normal" fill="#000" stroke="#000" stroke-width="0.35">0.50</text>
<line x1="145.6" y1="1703.4" x2="152.1" y2="1703.4" stroke="#000" stroke-width="2.6"/>
<text transform="translate(76.63 1714.4)" font-size="25.4" text-anchor="start" font-weight="normal" fill="#000" stroke="#000" stroke-width="0.35">0.25</text>
<line x1="145.6" y1="1842.7" x2="152.1" y2="1842.7" stroke="#000" stroke-width="2.6"/>
<text transform="translate(76.56 1851.9)" font-size="25.4" text-anchor="start" font-weight="normal" fill="#000" stroke="#000" stroke-width="0.35">0.00</text>
<line x1="194.20" y1="1870.7" x2="194.20" y2="1877.0" stroke="#000" stroke-width="2.6"/>
<text transform="translate(186.37 1905.8) scale(1.0 1.05)" font-size="28.5" text-anchor="start" font-weight="normal" fill="#000" stroke="#000" stroke-width="0.35">0</text>
<line x1="296.24" y1="1870.7" x2="296.24" y2="1877.0" stroke="#000" stroke-width="2.6"/>
<text transform="translate(285.08 1905.8) scale(1.0 1.05)" font-size="28.5" text-anchor="start" font-weight="normal" fill="#000" stroke="#000" stroke-width="0.35">6</text>
<line x1="398.28" y1="1870.7" x2="398.28" y2="1877.0" stroke="#000" stroke-width="2.6"/>
<text transform="translate(380.08 1905.8) scale(1.0 1.05)" font-size="28.5" text-anchor="start" font-weight="normal" fill="#000" stroke="#000" stroke-width="0.35">12</text>
<line x1="500.32" y1="1870.7" x2="500.32" y2="1877.0" stroke="#000" stroke-width="2.6"/>
<text transform="translate(486.28 1905.8) scale(1.0 1.05)" font-size="28.5" text-anchor="start" font-weight="normal" fill="#000" stroke="#000" stroke-width="0.35">18</text>
<line x1="602.36" y1="1870.7" x2="602.36" y2="1877.0" stroke="#000" stroke-width="2.6"/>
<text transform="translate(582.95 1905.8) scale(1.0 1.05)" font-size="28.5" text-anchor="start" font-weight="normal" fill="#000" stroke="#000" stroke-width="0.35">24</text>
<line x1="704.40" y1="1870.7" x2="704.40" y2="1877.0" stroke="#000" stroke-width="2.6"/>
<text transform="translate(686.26 1905.8) scale(1.0 1.05)" font-size="28.5" text-anchor="start" font-weight="normal" fill="#000" stroke="#000" stroke-width="0.35">30</text>
<line x1="806.44" y1="1870.7" x2="806.44" y2="1877.0" stroke="#000" stroke-width="2.6"/>
<text transform="translate(794.93 1905.8) scale(1.0 1.05)" font-size="28.5" text-anchor="start" font-weight="normal" fill="#000" stroke="#000" stroke-width="0.35">36</text>
<line x1="908.48" y1="1870.7" x2="908.48" y2="1877.0" stroke="#000" stroke-width="2.6"/>
<text transform="translate(892.44 1905.8) scale(1.0 1.05)" font-size="28.5" text-anchor="start" font-weight="normal" fill="#000" stroke="#000" stroke-width="0.35">42</text>
<line x1="1010.52" y1="1870.7" x2="1010.52" y2="1877.0" stroke="#000" stroke-width="2.6"/>
<text transform="translate(991.64 1905.8) scale(1.0 1.05)" font-size="28.5" text-anchor="start" font-weight="normal" fill="#000" stroke="#000" stroke-width="0.35">48</text>
<text transform="translate(448.87 1949.4)" font-size="29.58" text-anchor="start" font-weight="normal" fill="#000" stroke="#000" stroke-width="0.35">Months since first dose</text>
<text transform="translate(49.2 1669.03) rotate(-90)" font-size="25.83" text-anchor="start" font-weight="bold" fill="#000" stroke="#000" stroke-width="0.3">Probability of OS</text>
<text transform="translate(204.37 1511.6)" font-size="25.91" text-anchor="start" font-weight="bold" fill="#000" stroke="#000" stroke-width="0.3">Median OS (95% CI)</text>
<text transform="translate(204.37 1542.8)" font-size="25.82" text-anchor="start" font-weight="bold" fill="#000" stroke="#000" stroke-width="0.3">NA Months (37.1, NA)</text>
<text transform="translate(137.49 1989.4)" font-size="25.71" text-anchor="start" font-weight="normal" fill="#000" stroke="#000" stroke-width="0.35">Number at risk</text>
<text transform="translate(113.76 2031.2)" font-size="22.2" text-anchor="start" font-weight="normal" fill="#E2463D" stroke="#E2463D" stroke-width="0.35">All</text>
<text transform="translate(178.73 2035.2)" font-size="28.6" text-anchor="start" font-weight="normal" fill="#000" stroke="#000" stroke-width="0.35">16</text>
<text transform="translate(276.43 2035.2)" font-size="28.6" text-anchor="start" font-weight="normal" fill="#000" stroke="#000" stroke-width="0.35">16</text>
<text transform="translate(381.31 2035.2)" font-size="28.6" text-anchor="start" font-weight="normal" fill="#000" stroke="#000" stroke-width="0.35">15</text>
<text transform="translate(488.02 2035.2)" font-size="28.6" text-anchor="start" font-weight="normal" fill="#000" stroke="#000" stroke-width="0.35">12</text>
<text transform="translate(593.05 2035.2)" font-size="28.6" text-anchor="start" font-weight="normal" fill="#000" stroke="#000" stroke-width="0.35">6</text>
<text transform="translate(695.77 2035.2)" font-size="28.6" text-anchor="start" font-weight="normal" fill="#000" stroke="#000" stroke-width="0.35">5</text>
<text transform="translate(805.13 2035.2)" font-size="28.6" text-anchor="start" font-weight="normal" fill="#000" stroke="#000" stroke-width="0.35">3</text>
<text transform="translate(904.96 2035.2)" font-size="28.6" text-anchor="start" font-weight="normal" fill="#000" stroke="#000" stroke-width="0.35">1</text>
<text transform="translate(1001.95 2035.2)" font-size="28.6" text-anchor="start" font-weight="normal" fill="#000" stroke="#000" stroke-width="0.35">0</text>
</g>
<g id="panel-e">
<text transform="translate(1168.41 1311.9)" font-size="33" text-anchor="start" font-weight="bold" fill="#000" stroke="#000" stroke-width="0.3">e</text>
<path d="M1394.4,1312.5 H1404.8 V1340.3 H1428.6 V1367.8 H1494.9 V1398.3 H1543.1 V1430.4 H1689.6 V1460.6 H1692.5 V1494.5 H1723.2 V1511.9 H2008 V1853.6 H1723.3 V1827.7 H1692.5 V1789.5 H1689.7 V1741.2 H1543.1 V1700 H1494.9 V1663.4 H1429.2 V1623.7 H1405.7 V1582.4 H1401.8 V1533.5 H1397.2 V1430 H1394.4 Z" fill="#FDD6D3"/>
<path d="M1312.3,1312.5 H1394.4 V1351.6 H1397.2 V1430.1 H1402.7 V1469.2 H1405.7 V1509 H1429.2 V1548.2 H1494.9 V1587.9 H1543.1 V1633.4 H1689.7 V1691.8 H1692.8 V1748.2 H1723.5 V1805.4 H2008" stroke="#F8766D" stroke-width="4.2" fill="none" stroke-linejoin="round"/>
<path d="M1311.6,1587.9 H1518.7 V1863.4" stroke="#000" stroke-width="2.4" stroke-dasharray="8.4 8.4" fill="none"/>
<path d="M1331.4,1310.4 H1344.4 M1337.9,1303.9 V1316.9" stroke="#F8766D" stroke-width="2.2" fill="none"/>
<path d="M1385.5,1310.4 H1398.5 M1392.0,1303.9 V1316.9" stroke="#F8766D" stroke-width="2.2" fill="none"/>
<path d="M1488.4,1585.8 H1501.4 M1494.9,1579.3 V1592.3" stroke="#F8766D" stroke-width="2.2" fill="none"/>
<path d="M1641.7,1631.3 H1654.7 M1648.2,1624.8 V1637.8" stroke="#F8766D" stroke-width="2.2" fill="none"/>
<path d="M2000.5,1802.8 H2013.5 M2007.0,1796.3 V1809.3" stroke="#F8766D" stroke-width="2.2" fill="none"/>
<path d="M1271.9,1285 V1890.3 H2151.5" stroke="#000" stroke-width="2.6" fill="none"/>
<line x1="1265.2" y1="1312.5" x2="1272" y2="1312.5" stroke="#000" stroke-width="2.6"/>
<text transform="translate(1210.86 1321.6)" font-size="25.4" text-anchor="start" font-weight="normal" fill="#000" stroke="#000" stroke-width="0.35">1.00</text>
<line x1="1265.2" y1="1450.1" x2="1272" y2="1450.1" stroke="#000" stroke-width="2.6"/>
<text transform="translate(1210.93 1461.2)" font-size="25.4" text-anchor="start" font-weight="normal" fill="#000" stroke="#000" stroke-width="0.35">0.75</text>
<line x1="1265.2" y1="1587.9" x2="1272" y2="1587.9" stroke="#000" stroke-width="2.6"/>
<text transform="translate(1210.86 1598.6)" font-size="25.4" text-anchor="start" font-weight="normal" fill="#000" stroke="#000" stroke-width="0.35">0.50</text>
<line x1="1265.2" y1="1725.7" x2="1272" y2="1725.7" stroke="#000" stroke-width="2.6"/>
<text transform="translate(1210.93 1737.2)" font-size="25.4" text-anchor="start" font-weight="normal" fill="#000" stroke="#000" stroke-width="0.35">0.25</text>
<line x1="1265.2" y1="1863.3" x2="1272" y2="1863.3" stroke="#000" stroke-width="2.6"/>
<text transform="translate(1210.86 1874.9)" font-size="25.4" text-anchor="start" font-weight="normal" fill="#000" stroke="#000" stroke-width="0.35">0.00</text>
<line x1="1311.7" y1="1890.3" x2="1311.7" y2="1896.6" stroke="#000" stroke-width="2.6"/>
<text transform="translate(1304.84 1924.2) scale(1.0 1.05)" font-size="29" text-anchor="start" font-weight="normal" fill="#000" stroke="#000" stroke-width="0.35">0</text>
<line x1="1445.4" y1="1890.3" x2="1445.4" y2="1896.6" stroke="#000" stroke-width="2.6"/>
<text transform="translate(1437.62 1924.2) scale(1.0 1.05)" font-size="29" text-anchor="start" font-weight="normal" fill="#000" stroke="#000" stroke-width="0.35">3</text>
<line x1="1578.9" y1="1890.3" x2="1578.9" y2="1896.6" stroke="#000" stroke-width="2.6"/>
<text transform="translate(1571.04 1924.2) scale(1.0 1.05)" font-size="29" text-anchor="start" font-weight="normal" fill="#000" stroke="#000" stroke-width="0.35">6</text>
<line x1="1713.1" y1="1890.3" x2="1713.1" y2="1896.6" stroke="#000" stroke-width="2.6"/>
<text transform="translate(1705.74 1924.2) scale(1.0 1.05)" font-size="29" text-anchor="start" font-weight="normal" fill="#000" stroke="#000" stroke-width="0.35">9</text>
<line x1="1846.4" y1="1890.3" x2="1846.4" y2="1896.6" stroke="#000" stroke-width="2.6"/>
<text transform="translate(1827.8 1924.2) scale(1.0 1.05)" font-size="29" text-anchor="start" font-weight="normal" fill="#000" stroke="#000" stroke-width="0.35">12</text>
<line x1="2007.0" y1="1890.3" x2="2007.0" y2="1896.6" stroke="#000" stroke-width="2.6"/>
<text transform="translate(1988.78 1924.2) scale(1.0 1.05)" font-size="29" text-anchor="start" font-weight="normal" fill="#000" stroke="#000" stroke-width="0.35">15</text>
<text transform="translate(1523.18 1968.7)" font-size="29.55" text-anchor="start" font-weight="normal" fill="#000" stroke="#000" stroke-width="0.35">Months since first dose</text>
<text transform="translate(1182.3 1697.93) rotate(-90)" font-size="25.79" text-anchor="start" font-weight="bold" fill="#000" stroke="#000" stroke-width="0.3">Probability of PFS</text>
<text transform="translate(1762.56 1370.0)" font-size="25.96" text-anchor="start" font-weight="bold" fill="#000" stroke="#000" stroke-width="0.3">Median PFS (95% CI)</text>
<text transform="translate(1763.91 1401.5)" font-size="25.83" text-anchor="start" font-weight="bold" fill="#000" stroke="#000" stroke-width="0.3">4.6 Months (2.1, NA)</text>
<text transform="translate(1270.69 2008.0)" font-size="25.7" text-anchor="start" font-weight="normal" fill="#000" stroke="#000" stroke-width="0.35">Number at risk</text>
<text transform="translate(1247.66 2049.9)" font-size="22.2" text-anchor="start" font-weight="normal" fill="#E2463D" stroke="#E2463D" stroke-width="0.35">All</text>
<text transform="translate(1297.13 2054.0)" font-size="28.6" text-anchor="start" font-weight="normal" fill="#000" stroke="#000" stroke-width="0.35">16</text>
<text transform="translate(1437.65 2054.0)" font-size="28.6" text-anchor="start" font-weight="normal" fill="#000" stroke="#000" stroke-width="0.35">8</text>
<text transform="translate(1571.27 2054.0)" font-size="28.6" text-anchor="start" font-weight="normal" fill="#000" stroke="#000" stroke-width="0.35">5</text>
<text transform="translate(1705.35 2054.0)" font-size="28.6" text-anchor="start" font-weight="normal" fill="#000" stroke="#000" stroke-width="0.35">2</text>
<text transform="translate(1837.06 2054.0)" font-size="28.6" text-anchor="start" font-weight="normal" fill="#000" stroke="#000" stroke-width="0.35">1</text>
<text transform="translate(1996.56 2054.0)" font-size="28.6" text-anchor="start" font-weight="normal" fill="#000" stroke="#000" stroke-width="0.35">1</text>
</g>
</svg>
</body>
</html>
